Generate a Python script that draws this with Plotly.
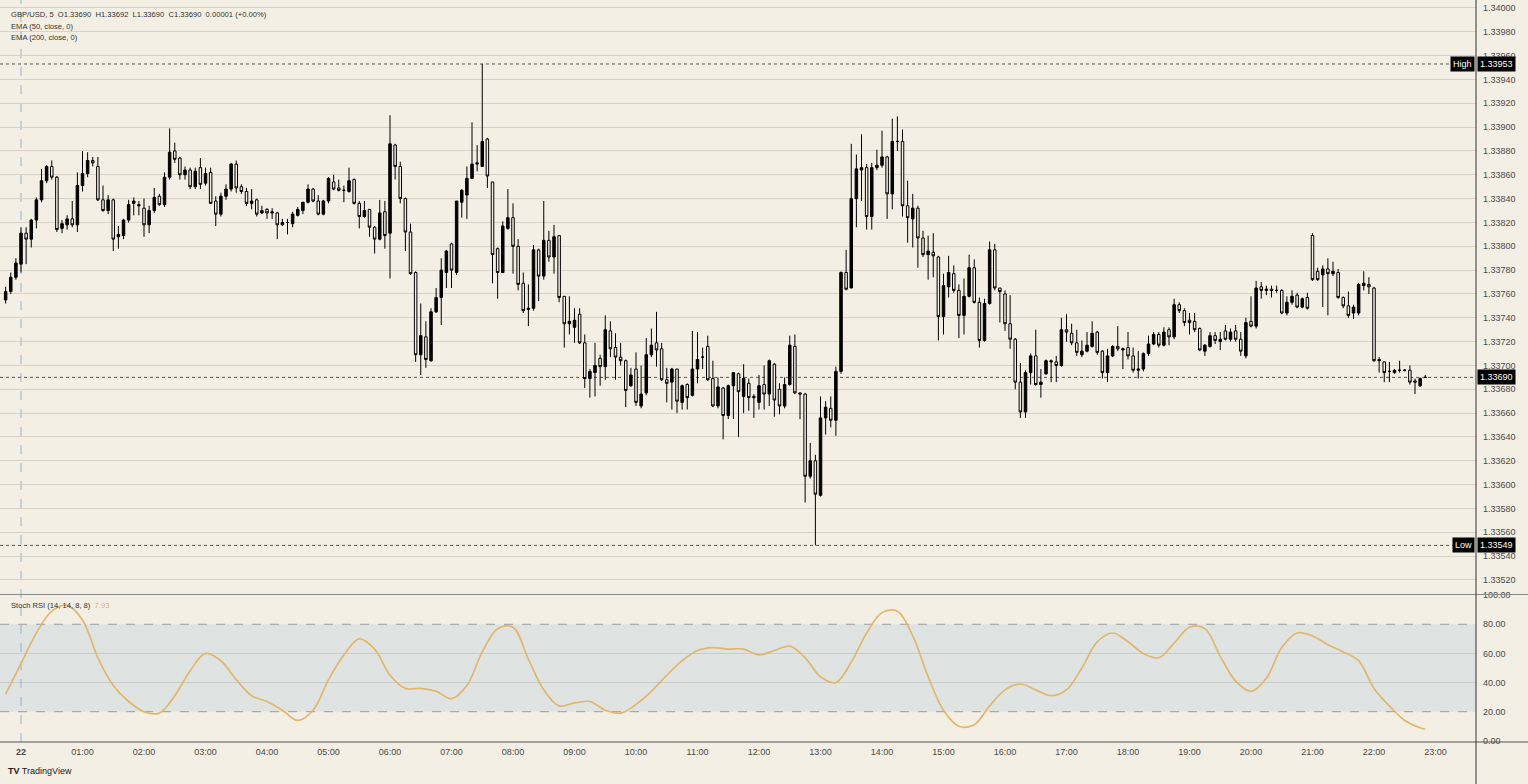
import pandas as pd
import plotly.graph_objects as go

# ---------------- data ----------------
opens = [
1.33755,1.33762,1.33774,1.33785,1.33811,1.33806,1.33822,1.33839,1.33855,1.33867,
1.33858,1.33815,1.33818,1.33823,1.33818,1.33851,1.33861,1.33872,1.33867,1.33839,
1.33830,1.33839,1.33808,1.33809,1.33822,1.33836,1.33835,1.33832,1.33818,1.33830,
1.33842,1.33835,1.33858,1.33880,1.33874,1.33860,1.33864,1.33850,1.33866,1.33853,
1.33862,1.33838,1.33827,1.33842,1.33848,1.33869,1.33850,1.33846,1.33836,1.33839,
1.33828,1.33831,1.33829,1.33828,1.33818,1.33820,1.33819,1.33826,1.33830,1.33837,
1.33848,1.33838,1.33827,1.33838,1.33854,1.33849,1.33847,1.33846,1.33856,1.33836,
1.33825,1.33831,1.33816,1.33806,1.33829,1.33811,1.33885,1.33867,1.33840,1.33812,
1.33778,1.33709,1.33724,1.33704,1.33745,1.33757,1.33778,1.33802,1.33778,1.33837,
1.33843,1.33857,1.33869,1.33867,1.33890,1.33854,1.33798,1.33778,1.33815,1.33824,
1.33800,1.33769,1.33747,1.33748,1.33797,1.33775,1.33805,1.33791,1.33809,1.33758,
1.33735,1.33732,1.33743,1.33719,1.33689,1.33694,1.33706,1.33699,1.33729,1.33715,
1.33707,1.33704,1.33683,1.33697,1.33666,1.33677,1.33709,1.33719,1.33714,1.33688,
1.33686,1.33697,1.33669,1.33684,1.33675,1.33697,1.33707,1.33716,1.33689,1.33666,
1.33681,1.33658,1.33683,1.33693,1.33674,1.33685,1.33674,1.33669,1.33684,1.33676,
1.33701,1.33680,1.33666,1.33684,1.33716,1.33677,1.33676,1.33607,1.33620,1.33591,
1.33656,1.33664,1.33654,1.33695,1.33778,1.33765,1.33840,1.33864,1.33866,1.33825,
1.33866,1.33868,1.33875,1.33844,1.33888,1.33888,1.33834,1.33823,1.33832,1.33807,
1.33793,1.33795,1.33791,1.33741,1.33766,1.33777,1.33763,1.33742,1.33758,1.33782,
1.33753,1.33721,1.33752,1.33797,1.33765,1.33760,1.33735,1.33722,1.33686,1.33661,
1.33694,1.33708,1.33684,1.33693,1.33704,1.33703,1.33700,1.33730,1.33727,1.33719,
1.33709,1.33712,1.33716,1.33728,1.33712,1.33694,1.33708,1.33716,1.33713,1.33715,
1.33708,1.33696,1.33697,1.33710,1.33718,1.33726,1.33717,1.33730,1.33724,1.33751,
1.33746,1.33738,1.33737,1.33731,1.33712,1.33716,1.33725,1.33720,1.33729,1.33722,
1.33729,1.33722,1.33708,1.33737,1.33733,1.33766,1.33763,1.33764,1.33763,1.33763,
1.33744,1.33753,1.33759,1.33749,1.33757,1.33809,1.33779,1.33776,1.33781,1.33777,
1.33778,1.33757,1.33750,1.33744,1.33744,1.33767,1.33768,1.33765,1.33705,1.33703,
1.33695,1.33694,1.33696,1.33696,1.33696,1.33687,1.33683,1.33690]

highs = [
1.33766,1.33778,1.33790,1.33816,1.33816,1.33823,1.33841,1.33865,1.33868,1.33872,
1.33859,1.33822,1.33826,1.33838,1.33862,1.33880,1.33879,1.33875,1.33875,1.33851,
1.33843,1.33840,1.33817,1.33823,1.33839,1.33841,1.33838,1.33840,1.33834,1.33849,
1.33844,1.33862,1.33899,1.33887,1.33875,1.33867,1.33866,1.33866,1.33874,1.33866,
1.33866,1.33842,1.33845,1.33852,1.33870,1.33872,1.33852,1.33849,1.33848,1.33840,
1.33834,1.33832,1.33832,1.33829,1.33823,1.33823,1.33829,1.33833,1.33837,1.33852,
1.33849,1.33843,1.33839,1.33858,1.33860,1.33856,1.33851,1.33866,1.33857,1.33838,
1.33838,1.33831,1.33817,1.33839,1.33838,1.33910,1.33886,1.33871,1.33841,1.33819,
1.33779,1.33752,1.33737,1.33748,1.33765,1.33790,1.33797,1.33803,1.33838,1.33848,
1.33867,1.33904,1.33885,1.33953,1.33891,1.33854,1.33799,1.33821,1.33848,1.33836,
1.33806,1.33778,1.33768,1.33801,1.33798,1.33838,1.33813,1.33818,1.33809,1.33758,
1.33758,1.33748,1.33748,1.33726,1.33697,1.33719,1.33709,1.33742,1.33737,1.33727,
1.33719,1.33705,1.33698,1.33711,1.33700,1.33723,1.33731,1.33745,1.33719,1.33698,
1.33698,1.33697,1.33684,1.33685,1.33729,1.33728,1.33715,1.33725,1.33704,1.33690,
1.33682,1.33684,1.33694,1.33694,1.33701,1.33689,1.33676,1.33692,1.33700,1.33705,
1.33702,1.33685,1.33690,1.33725,1.33726,1.33677,1.33677,1.33635,1.33625,1.33674,
1.33670,1.33674,1.33699,1.33779,1.33797,1.33886,1.33877,1.33894,1.33869,1.33870,
1.33881,1.33897,1.33876,1.33907,1.33909,1.33898,1.33855,1.33844,1.33834,1.33813,
1.33809,1.33811,1.33792,1.33777,1.33792,1.33784,1.33768,1.33773,1.33793,1.33789,
1.33757,1.33756,1.33804,1.33802,1.33765,1.33763,1.33759,1.33723,1.33702,1.33696,
1.33710,1.33730,1.33697,1.33705,1.33705,1.33708,1.33740,1.33743,1.33735,1.33730,
1.33721,1.33728,1.33737,1.33729,1.33713,1.33714,1.33717,1.33733,1.33715,1.33728,
1.33715,1.33712,1.33711,1.33725,1.33728,1.33728,1.33732,1.33732,1.33756,1.33753,
1.33748,1.33744,1.33744,1.33732,1.33718,1.33728,1.33728,1.33728,1.33734,1.33731,
1.33734,1.33728,1.33740,1.33758,1.33771,1.33770,1.33767,1.33767,1.33767,1.33764,
1.33758,1.33763,1.33761,1.33757,1.33761,1.33811,1.33782,1.33784,1.33790,1.33787,
1.33781,1.33758,1.33762,1.33751,1.33769,1.33779,1.33774,1.33766,1.33707,1.33703,
1.33703,1.33697,1.33704,1.33697,1.33700,1.33689,1.33690,1.33692]

lows = [
1.33752,1.33760,1.33772,1.33778,1.33785,1.33799,1.33815,1.33837,1.33853,1.33856,
1.33812,1.33811,1.33814,1.33816,1.33812,1.33846,1.33858,1.33867,1.33838,1.33829,
1.33827,1.33796,1.33798,1.33806,1.33820,1.33826,1.33826,1.33808,1.33811,1.33828,
1.33834,1.33833,1.33856,1.33870,1.33856,1.33856,1.33848,1.33848,1.33848,1.33851,
1.33836,1.33817,1.33825,1.33839,1.33846,1.33845,1.33844,1.33834,1.33831,1.33825,
1.33827,1.33823,1.33823,1.33806,1.33817,1.33810,1.33816,1.33825,1.33827,1.33836,
1.33837,1.33826,1.33826,1.33836,1.33847,1.33846,1.33837,1.33845,1.33835,1.33815,
1.33824,1.33808,1.33794,1.33805,1.33798,1.33773,1.33856,1.33836,1.33796,1.33776,
1.33703,1.33692,1.33698,1.33703,1.33744,1.33734,1.33765,1.33765,1.33776,1.33824,
1.33823,1.33857,1.33863,1.33867,1.33849,1.33769,1.33756,1.33778,1.33814,1.33777,
1.33763,1.33744,1.33733,1.33746,1.33754,1.33772,1.33787,1.33777,1.33753,1.33715,
1.33726,1.33719,1.33718,1.33681,1.33673,1.33674,1.33683,1.33688,1.33707,1.33688,
1.33700,1.33665,1.33682,1.33666,1.33664,1.33675,1.33707,1.33699,1.33687,1.33669,
1.33663,1.33660,1.33663,1.33663,1.33674,1.33685,1.33697,1.33687,1.33665,1.33664,
1.33638,1.33655,1.33655,1.33640,1.33660,1.33662,1.33656,1.33663,1.33663,1.33666,
1.33657,1.33659,1.33664,1.33683,1.33676,1.33655,1.33585,1.33605,1.33549,1.33590,
1.33642,1.33648,1.33641,1.33693,1.33763,1.33765,1.33816,1.33838,1.33814,1.33814,
1.33864,1.33866,1.33823,1.33831,1.33880,1.33825,1.33803,1.33799,1.33782,1.33791,
1.33772,1.33774,1.33721,1.33726,1.33757,1.33761,1.33723,1.33726,1.33757,1.33752,
1.33715,1.33720,1.33751,1.33763,1.33736,1.33729,1.33714,1.33680,1.33656,1.33656,
1.33684,1.33683,1.33673,1.33692,1.33686,1.33686,1.33699,1.33720,1.33717,1.33708,
1.33707,1.33711,1.33715,1.33709,1.33689,1.33686,1.33707,1.33712,1.33697,1.33705,
1.33694,1.33689,1.33695,1.33708,1.33717,1.33715,1.33716,1.33717,1.33722,1.33744,
1.33733,1.33726,1.33728,1.33712,1.33708,1.33715,1.33718,1.33713,1.33721,1.33720,
1.33720,1.33708,1.33706,1.33732,1.33731,1.33756,1.33759,1.33757,1.33761,1.33743,
1.33742,1.33751,1.33748,1.33748,1.33747,1.33771,1.33771,1.33749,1.33742,1.33775,
1.33756,1.33748,1.33740,1.33739,1.33742,1.33763,1.33760,1.33703,1.33694,1.33686,
1.33686,1.33693,1.33694,1.33695,1.33684,1.33676,1.33682,1.33690]

closes = [
1.33762,1.33774,1.33786,1.33811,1.33806,1.33822,1.33839,1.33855,1.33867,1.33858,
1.33814,1.33819,1.33823,1.33818,1.33851,1.33861,1.33872,1.33870,1.33839,1.33830,
1.33839,1.33806,1.33810,1.33822,1.33835,1.33838,1.33834,1.33818,1.33830,1.33841,
1.33835,1.33858,1.33879,1.33873,1.33860,1.33864,1.33850,1.33863,1.33852,1.33861,
1.33836,1.33827,1.33842,1.33848,1.33869,1.33849,1.33846,1.33836,1.33838,1.33827,
1.33830,1.33828,1.33828,1.33818,1.33820,1.33820,1.33827,1.33831,1.33837,1.33848,
1.33838,1.33827,1.33838,1.33857,1.33848,1.33847,1.33847,1.33855,1.33836,1.33825,
1.33830,1.33816,1.33806,1.33828,1.33809,1.33886,1.33867,1.33840,1.33812,1.33777,
1.33709,1.33725,1.33705,1.33745,1.33757,1.33780,1.33796,1.33780,1.33838,1.33847,
1.33857,1.33869,1.33870,1.33888,1.33859,1.33793,1.33778,1.33817,1.33824,1.33800,
1.33768,1.33746,1.33748,1.33797,1.33775,1.33805,1.33791,1.33808,1.33757,1.33735,
1.33737,1.33738,1.33719,1.33689,1.33695,1.33700,1.33699,1.33730,1.33714,1.33707,
1.33704,1.33679,1.33692,1.33669,1.33676,1.33709,1.33717,1.33713,1.33688,1.33685,
1.33697,1.33670,1.33683,1.33673,1.33697,1.33705,1.33707,1.33688,1.33666,1.33682,
1.33658,1.33683,1.33694,1.33678,1.33689,1.33673,1.33673,1.33683,1.33676,1.33704,
1.33671,1.33666,1.33684,1.33717,1.33677,1.33676,1.33607,1.33620,1.33592,1.33656,
1.33665,1.33654,1.33695,1.33778,1.33764,1.33840,1.33865,1.33866,1.33825,1.33866,
1.33868,1.33875,1.33844,1.33888,1.33888,1.33834,1.33824,1.33832,1.33807,1.33793,
1.33796,1.33792,1.33741,1.33767,1.33778,1.33763,1.33742,1.33758,1.33782,1.33753,
1.33721,1.33752,1.33797,1.33765,1.33762,1.33735,1.33722,1.33686,1.33661,1.33694,
1.33708,1.33684,1.33686,1.33704,1.33703,1.33700,1.33730,1.33728,1.33719,1.33711,
1.33712,1.33717,1.33727,1.33711,1.33694,1.33708,1.33716,1.33714,1.33714,1.33708,
1.33696,1.33697,1.33710,1.33718,1.33726,1.33717,1.33728,1.33724,1.33751,1.33746,
1.33736,1.33736,1.33730,1.33713,1.33717,1.33725,1.33721,1.33722,1.33722,1.33728,
1.33722,1.33712,1.33736,1.33733,1.33765,1.33763,1.33764,1.33763,1.33763,1.33744,
1.33753,1.33758,1.33749,1.33756,1.33748,1.33772,1.33772,1.33781,1.33777,1.33779,
1.33757,1.33750,1.33742,1.33749,1.33768,1.33769,1.33766,1.33704,1.33704,1.33694,
1.33695,1.33696,1.33696,1.33696,1.33686,1.33686,1.33689,1.33690]

# Stoch RSI read every 15 minutes from 23:45, plus the last bar (22:50)
stoch_rsi = [
32,
53, 74, 89, 93,   83, 57, 38, 27,   20, 19, 31, 48,   60, 55, 42, 31,
27, 21, 14, 21,   42, 59, 70, 63,   45, 36, 36, 34,   29, 38, 61, 77,
78, 56, 35, 24,   26, 27, 21, 19,   25, 34, 45, 55,   62, 64, 63, 63,
59, 62, 65, 57,   44, 40, 54, 74,   88, 89, 72, 44,   21, 10, 11, 24,
35, 39, 35, 31,   35, 50, 68, 74,   68, 60, 57, 67,   78, 77, 58, 41,
34, 43, 64, 74,   72, 66, 61, 55,   36, 24, 14, 9,
7.93]

hour_labels = ["<b>22</b>"] + [f"{h:02d}:00" for h in range(1, 24)]
price_ticks = [1.33520, 1.33540, 1.33560, 1.33580, 1.33600, 1.33620, 1.33640,
               1.33660, 1.33680, 1.33700, 1.33720, 1.33740, 1.33760, 1.33780,
               1.33800, 1.33820, 1.33840, 1.33860, 1.33880, 1.33900, 1.33920,
               1.33940, 1.33960, 1.33980, 1.34000]
stoch_ticks = [0, 20, 40, 60, 80, 100]
day_high, day_low, last_price = 1.33953, 1.33549, 1.33690

# ---------------- layout constants ----------------
W, H = 1528, 784
BG = "#F4EFE5"
GRID = "#D6D2CA"
TXT = "#4A4A4A"
FONT = "Liberation Sans, Arial, sans-serif"
XD = 1476 / W                       # right edge of plotting area
def py(px):                          # pixel row -> paper y
    return 1 - px / H

times = pd.date_range("2025-09-21 23:45", periods=len(closes), freq="5min")
st_times = list(pd.date_range("2025-09-21 23:45", periods=len(stoch_rsi) - 1, freq="15min")) + [pd.Timestamp("2025-09-22 22:50")]
hour_vals = pd.date_range("2025-09-22 00:00", periods=24, freq="60min")
x_range = [pd.Timestamp("2025-09-21 23:39:30"), pd.Timestamp("2025-09-22 23:39:30")]

fig = go.Figure()
fig.add_trace(go.Candlestick(
    x=times, open=opens, high=highs, low=lows, close=closes,
    xaxis="x", yaxis="y", whiskerwidth=0,
    increasing=dict(line=dict(color="#000000", width=1), fillcolor="#000000"),
    decreasing=dict(line=dict(color="#000000", width=1), fillcolor=BG),
    showlegend=False, hoverinfo="skip"))
fig.add_trace(go.Scatter(
    x=st_times, y=stoch_rsi, xaxis="x2", yaxis="y2", mode="lines",
    line=dict(color="#E2B66C", width=1.7, shape="spline", smoothing=1.0),
    showlegend=False, hoverinfo="skip"))

main_dom = [py(594), 1]
st_dom = [py(742), py(595)]

fig.update_layout(
    width=W, height=H, margin=dict(l=0, r=0, t=0, b=0, pad=0, autoexpand=False),
    paper_bgcolor=BG, plot_bgcolor=BG, showlegend=False,
    font=dict(family=FONT, size=9, color=TXT),
    xaxis=dict(domain=[0, XD], range=x_range, anchor="y", showticklabels=False,
               showgrid=False, zeroline=False, rangeslider=dict(visible=False), fixedrange=True,
               automargin=False),
    yaxis=dict(domain=main_dom, range=[1.335082, 1.340067], side="right", anchor="x",
               tickvals=price_ticks, ticktext=[f"{v:.5f}" for v in price_ticks],
               showgrid=True, gridcolor=GRID, gridwidth=1, zeroline=False, automargin=False,
               ticks="", ticklabelstandoff=6, tickfont=dict(size=9, color=TXT, family=FONT)),
    xaxis2=dict(domain=[0, XD], range=x_range, anchor="y2", matches="x", automargin=False,
                tickvals=list(hour_vals), ticktext=hour_labels, showgrid=False,
                zeroline=False, ticks="", ticklabelstandoff=3,
                tickfont=dict(size=9, color=TXT, family=FONT)),
    yaxis2=dict(domain=st_dom, range=[-0.8, 100.1], side="right", anchor="x2", automargin=False,
                tickvals=stoch_ticks, ticktext=[f"{v:.2f}" for v in stoch_ticks],
                showgrid=False, zeroline=False, ticks="", ticklabelstandoff=6,
                tickfont=dict(size=9, color=TXT, family=FONT)),
)

shapes = []
# Stoch band 20-80
shapes.append(dict(type="rect", xref="paper", yref="y2", x0=0, x1=XD, y0=20, y1=80,
                   fillcolor="#DFE4E3", line=dict(width=0), layer="below"))
for lvl in (40, 60):
    shapes.append(dict(type="line", xref="paper", yref="y2", x0=0, x1=XD, y0=lvl, y1=lvl,
                       line=dict(color="#C8CBC8", width=1), layer="below"))
for lvl in (20, 80):
    shapes.append(dict(type="line", xref="paper", yref="y2", x0=0, x1=XD, y0=lvl, y1=lvl,
                       line=dict(color="#9C9C9C", width=1, dash="dash"), layer="below"))
# High / Low / last price dotted lines
for lvl in (day_high, day_low, last_price):
    shapes.append(dict(type="line", xref="paper", yref="y", x0=0, x1=XD, y0=lvl, y1=lvl,
                       line=dict(color="#555555", width=1, dash="dot"), layer="below"))
# session break at 00:00
shapes.append(dict(type="line", xref="x", yref="paper", x0=hour_vals[0], x1=hour_vals[0],
                   y0=py(742), y1=1, line=dict(color="#8DB3D6", width=1, dash="dash"), layer="below"))
# pane separators and right border
shapes.append(dict(type="line", xref="paper", yref="paper", x0=0, x1=1, y0=py(594.5), y1=py(594.5),
                   line=dict(color="#8A8A8A", width=1.2)))
shapes.append(dict(type="line", xref="paper", yref="paper", x0=0, x1=1, y0=py(742), y1=py(742),
                   line=dict(color="#555555", width=1.2)))
shapes.append(dict(type="line", xref="paper", yref="paper", x0=XD, x1=XD, y0=0, y1=1,
                   line=dict(color="#333333", width=1)))
fig.update_layout(shapes=shapes)

ann = []
def label(text, x, y, **kw):
    d = dict(text=text, x=x / W, y=py(y), xref="paper", yref="paper", showarrow=False,
             xanchor="left", yanchor="middle", font=dict(family=FONT, size=7.6, color="#333333"))
    d.update(kw)
    ann.append(d)

label("GBP/USD, 5&nbsp;&nbsp;O1.33690&nbsp;&nbsp;H1.33692&nbsp;&nbsp;L1.33690&nbsp;&nbsp;C1.33690&nbsp;&nbsp;0.00001 (+0.00%)", 9, 15)
label("EMA (50, close, 0)", 9, 26)
label("EMA (200, close, 0)", 9, 37)
label('Stoch RSI (14, 14, 8, 8)&nbsp;&nbsp;<span style="color:#E2B66C">7.93</span>', 9, 605)
label("<b>TV</b> TradingView", 6, 771, font=dict(family=FONT, size=9, color="#222222"))

# price badges on the right axis
for txt, lvl in ((f"{day_high:.5f}", day_high), (f"{day_low:.5f}", day_low), (f"{last_price:.5f}", last_price)):
    ann.append(dict(text=txt, x=XD + 1 / W, y=lvl, xref="paper", yref="y", showarrow=False,
                    xanchor="left", yanchor="middle", bgcolor="#000000", borderpad=2,
                    font=dict(family=FONT, size=9, color="#FFFFFF")))
for txt, lvl in (("High", day_high), ("Low", day_low)):
    ann.append(dict(text=txt, x=XD - 1 / W, y=lvl, xref="paper", yref="y", showarrow=False,
                    xanchor="right", yanchor="middle", bgcolor="#000000", borderpad=2,
                    font=dict(family=FONT, size=9, color="#FFFFFF")))
fig.update_layout(annotations=ann)

fig.write_html("out.html")
